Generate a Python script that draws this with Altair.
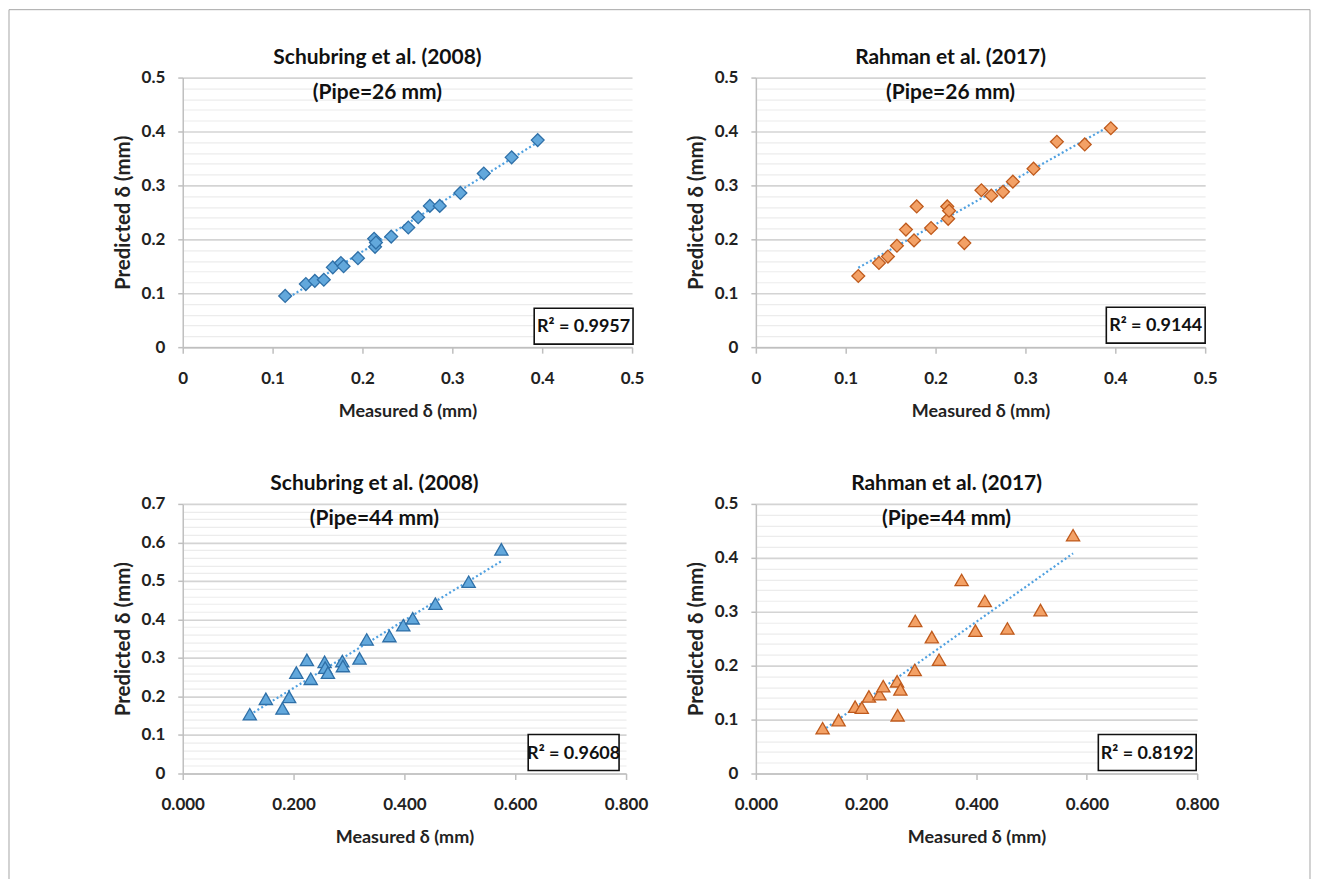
import altair as alt
import pandas as pd

# ---------------- data ----------------
measured_26 = [0.114, 0.137, 0.147, 0.157, 0.167, 0.176, 0.179, 0.195, 0.213, 0.214,
               0.215, 0.232, 0.251, 0.262, 0.275, 0.286, 0.309, 0.335, 0.366, 0.395]
pred_schubring_26 = [0.095, 0.117, 0.123, 0.125, 0.148, 0.156, 0.150, 0.165, 0.201, 0.186,
                     0.194, 0.205, 0.222, 0.241, 0.262, 0.262, 0.286, 0.322, 0.352, 0.384]
pred_rahman_26 = [0.132, 0.156, 0.168, 0.188, 0.218, 0.198, 0.261, 0.221, 0.261, 0.238,
                  0.253, 0.193, 0.291, 0.281, 0.288, 0.307, 0.331, 0.381, 0.376, 0.406]

measured_44 = [0.121, 0.150, 0.180, 0.192, 0.205, 0.224, 0.231, 0.256, 0.257, 0.262,
               0.288, 0.289, 0.319, 0.332, 0.373, 0.398, 0.415, 0.456, 0.516, 0.575]
pred_schubring_44 = [0.154, 0.194, 0.169, 0.199, 0.262, 0.295, 0.246, 0.290, 0.275, 0.262,
                     0.292, 0.279, 0.299, 0.348, 0.357, 0.385, 0.403, 0.441, 0.498, 0.582]
pred_rahman_44 = [0.084, 0.099, 0.124, 0.122, 0.143, 0.147, 0.162, 0.171, 0.108, 0.156,
                  0.192, 0.283, 0.253, 0.211, 0.359, 0.265, 0.320, 0.269, 0.303, 0.442]

titles = [
    ("Schubring et al. (2008)", "(Pipe=26 mm)"),
    ("Rahman et al. (2017)", "(Pipe=26 mm)"),
    ("Schubring et al. (2008)", "(Pipe=44 mm)"),
    ("Rahman et al. (2017)", "(Pipe=44 mm)"),
]
r2_labels = ["R\u00b2 = 0.9957", "R\u00b2 = 0.9144", "R\u00b2 = 0.9608", "R\u00b2 = 0.8192"]
x_title = "Measured \u03b4 (mm)"
y_title = "Predicted \u03b4 (mm)"

x_ticks_26 = [0, 0.1, 0.2, 0.3, 0.4, 0.5]
x_ticks_44 = [0, 0.2, 0.4, 0.6, 0.8]
y_grid_05 = [round(i * 0.02, 2) for i in range(26)]
y_grid_07 = [round(i * 0.02, 2) for i in range(36)]

# ---------------- styling ----------------
FONT = "Lato"
TXT = "#222222"
AXIS_GRAY = "#BFBFBF"
MAJOR = "abs(datum.value*10 - round(datum.value*10)) < 0.001"

BLUE_FILL, BLUE_STROKE = "#62A8DC", "#2E6FA7"
ORANGE_FILL, ORANGE_STROKE = "#F3A166", "#BF5A1C"
TREND = "#4FA0E0"


def one(**kw):
    return pd.DataFrame([kw if kw else {"k": 0}])


def panel(measured, predicted, xdom, ydom, xticks, yvals, xfmt, shape, size,
          fill, stroke, title, r2, w, h, box, frame=False):
    df = pd.DataFrame({"m": measured, "p": predicted})
    x_axis = alt.Axis(
        values=xticks, format=xfmt, grid=False,
        domainColor=AXIS_GRAY, domainWidth=1.5,
        tickColor=AXIS_GRAY, tickSize=6, tickWidth=1.5,
        labelFont=FONT, labelFontSize=17, labelFontWeight="bold", labelColor=TXT,
        labelPadding=25, labelBaseline="middle", labelOverlap=False, labelFlush=False,
        title=x_title, titleFont=FONT, titleFontSize=18, titleFontWeight="bold",
        titleColor=TXT, titleX=w / 2, titleY=64, titleBaseline="middle", titleAlign="center",
    )
    y_axis = alt.Axis(
        values=yvals, format="~g",
        labelExpr=MAJOR + " ? datum.label : ''",
        grid=True,
        gridColor={"condition": {"test": MAJOR, "value": "#D4D4D4"}, "value": "#ECECEC"},
        gridWidth={"condition": {"test": MAJOR, "value": 1.7}, "value": 1.2},
        domainColor=AXIS_GRAY, domainWidth=1.5,
        tickColor={"condition": {"test": MAJOR, "value": AXIS_GRAY}, "value": "transparent"},
        tickSize=5, tickWidth=1.5,
        labelFont=FONT, labelFontSize=17, labelFontWeight="bold", labelColor=TXT,
        labelPadding=13, labelOverlap=False, labelFlush=False,
        title=y_title, titleFont=FONT, titleFontSize=20.5, titleFontWeight="bold",
        titleColor=TXT, titleX=-59, titleY=h / 2, titleAngle=270,
        titleBaseline="middle", titleAlign="center",
    )
    x = alt.X("m:Q", scale=alt.Scale(domain=xdom, nice=False, zero=False), axis=x_axis)
    y = alt.Y("p:Q", scale=alt.Scale(domain=ydom, nice=False, zero=False), axis=y_axis)

    trend = alt.Chart(df).transform_regression("m", "p").mark_line(
        color=TREND, strokeWidth=2.2, strokeDash=[2, 2.5]
    ).encode(x=x, y=y)
    pts = alt.Chart(df).mark_point(
        shape=shape, size=size, filled=True, fill=fill, stroke=stroke,
        strokeWidth=1.3, fillOpacity=1, opacity=1
    ).encode(x=x, y=y)

    tx = w / 2 - 30
    t1 = alt.Chart(one(t=title[0])).mark_text(
        font=FONT, fontSize=21, fontWeight="bold", color="#111111", baseline="middle", align="center"
    ).encode(text="t:N", x=alt.value(tx), y=alt.value(-20))
    t2 = alt.Chart(one(t=title[1])).mark_text(
        font=FONT, fontSize=21, fontWeight="bold", color="#111111", baseline="middle", align="center"
    ).encode(text="t:N", x=alt.value(tx), y=alt.value(15))

    bx1, bx2, by1, by2 = box
    rbox = alt.Chart(one()).mark_rect(fill="white", stroke="#111111", strokeWidth=1.6).encode(
        x=alt.value(bx1), x2=alt.value(bx2), y=alt.value(by1), y2=alt.value(by2))
    rtxt = alt.Chart(one(t=r2)).mark_text(
        font=FONT, fontSize=18, fontWeight="bold", color="#111111", baseline="middle", align="center"
    ).encode(text="t:N", x=alt.value((bx1 + bx2) / 2), y=alt.value((by1 + by2) / 2 + 1))

    layers = [trend, pts, t1, t2, rbox, rtxt]
    if frame:
        fr = alt.Chart(one()).mark_rule(color="#A6A6A6", strokeWidth=1)
        layers += [
            fr.encode(x=alt.value(-174), x2=alt.value(1129), y=alt.value(-68), y2=alt.value(-68)),
            fr.encode(x=alt.value(-174), x2=alt.value(-174), y=alt.value(-68), y2=alt.value(810)),
            fr.encode(x=alt.value(1129), x2=alt.value(1129), y=alt.value(-68), y2=alt.value(810)),
        ]
    return alt.layer(*layers).properties(width=w, height=h)


p1 = panel(measured_26, pred_schubring_26, [0, 0.5], [0, 0.5], x_ticks_26, y_grid_05, "~g",
           "diamond", 165, BLUE_FILL, BLUE_STROKE, titles[0], r2_labels[0], 450, 270,
           (352, 451, 231, 267), frame=True)
p2 = panel(measured_26, pred_rahman_26, [0, 0.5], [0, 0.5], x_ticks_26, y_grid_05, "~g",
           "diamond", 165, ORANGE_FILL, ORANGE_STROKE, titles[1], r2_labels[1], 450, 270,
           (351, 450, 230, 266))
p3 = panel(measured_44, pred_schubring_44, [0, 0.8], [0, 0.7], x_ticks_44, y_grid_07, ".3f",
           "triangle-up", 175, BLUE_FILL, BLUE_STROKE, titles[2], r2_labels[2], 444, 270,
           (346, 437, 231, 267))
p4 = panel(measured_44, pred_rahman_44, [0, 0.8], [0, 0.5], x_ticks_44, y_grid_05, ".3f",
           "triangle-up", 175, ORANGE_FILL, ORANGE_STROKE, titles[3], r2_labels[3], 442, 270,
           (343, 441, 231, 267))

chart = alt.concat(
    p1, p2, p3, p4, columns=2, bounds="flush",
    spacing=alt.RowColnumber(row=157, column=124),
).properties(padding=0, background="white").configure_view(stroke=None)

chart.save("out.html", embed_options={"renderer": "svg", "actions": False})
